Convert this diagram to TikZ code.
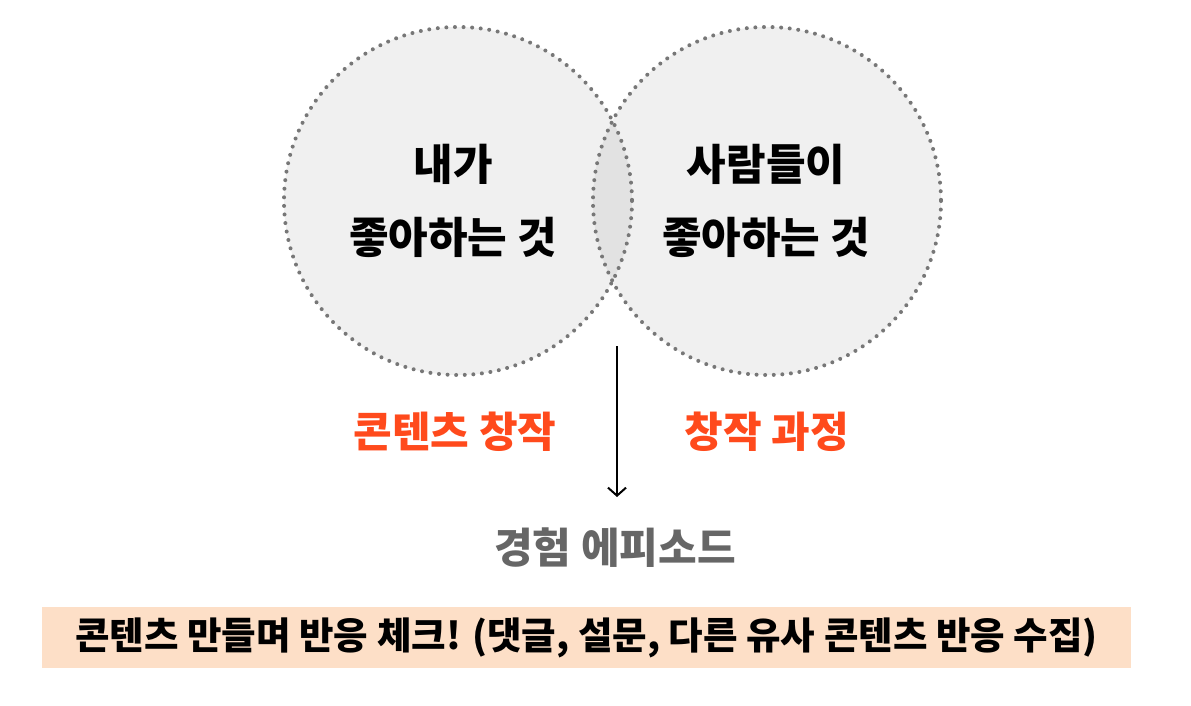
\documentclass[tikz,border=0pt]{standalone}
\usepackage{fontspec}
\setmainfont{Noto Sans CJK KR}
\usetikzlibrary{arrows.meta}
\definecolor{circfill}{HTML}{F0F0F0}
\definecolor{lensfill}{HTML}{E2E2E2}
\definecolor{dotgray}{HTML}{777777}
\definecolor{accent}{HTML}{FF4A1C}
\definecolor{midgray}{HTML}{666666}
\definecolor{barfill}{HTML}{FDDFC7}
\tikzset{
  venn/.style={circle, minimum size=348pt, inner sep=0pt},
  dotline/.style={draw=dotgray, line width=4pt, line cap=round, dash pattern=on 0pt off 8.6pt},
  maintext/.style={font=\fontsize{43}{73}\selectfont\bfseries, align=center, text=black},
  orangetext/.style={font=\fontsize{42}{48}\selectfont\bfseries, text=accent},
  graytext/.style={font=\fontsize{42}{48}\selectfont\bfseries, text=midgray},
  bartext/.style={font=\fontsize{37.5}{42}\selectfont\bfseries, text=black},
}
\begin{document}
\begin{tikzpicture}[x=1pt,y=-1pt]
\useasboundingbox (0,0) rectangle (1191,706);
\fill[white] (0,0) rectangle (1191,706);
% circles
\node[venn, fill=circfill] (L) at (458,201) {};
\node[venn, fill=circfill] (R) at (767,201) {};
\begin{scope}
  \clip (458,201) circle (174);
  \fill[lensfill] (767,201) circle (174);
\end{scope}
\draw[dotline] (458,201) circle (174);
\draw[dotline] (767,201) circle (174);
% texts
\node[maintext] (lt) at (453,201) {내가\\좋아하는 것};
\node[maintext] (rt) at (766,201) {사람들이\\좋아하는 것};
\node[orangetext] (o1) at (455,432) {콘텐츠 창작};
\node[orangetext] (o2) at (767,432) {창작 과정};
\coordinate (as) at (617,346);
\node[graytext] (exp) at (615,548) {경험 에피소드};
\coordinate (ae) at (617,497);
\draw[line width=2pt, -{Straight Barb[length=8pt,width=18pt,line width=2pt]}] (as) -- (ae);
% bar
\node[fill=barfill, minimum width=1089pt, minimum height=61pt, inner sep=0pt] (bar) at (586.5,637.5) {};
\node[bartext] (bt) at (bar.center) {콘텐츠 만들며 반응 체크! (댓글, 설문, 다른 유사 콘텐츠 반응 수집)};
\end{tikzpicture}
\end{document}
